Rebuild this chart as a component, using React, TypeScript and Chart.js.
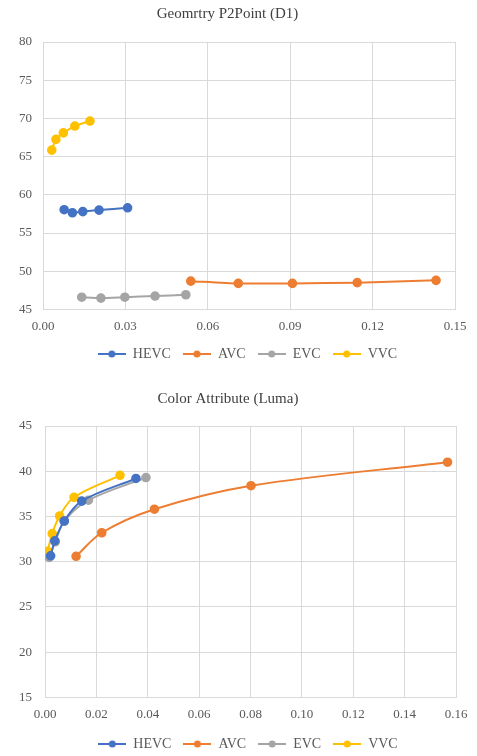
import React, { useEffect, useRef } from "react";
import { Chart, registerables } from "chart.js";

Chart.register(...registerables);

// ---- Chart 1: Geometry P2Point (D1) ----
const geoTitle = "Geomrtry P2Point (D1)";
const geoHevcX = [0.0077, 0.0107, 0.0145, 0.0204, 0.0308];
const geoHevcY = [58.05, 57.65, 57.8, 58.0, 58.3];
const geoAvcX = [0.0538, 0.0711, 0.0908, 0.1144, 0.1431];
const geoAvcY = [48.7, 48.4, 48.4, 48.5, 48.8];
const geoEvcX = [0.0141, 0.0211, 0.0298, 0.0408, 0.0520];
const geoEvcY = [46.6, 46.48, 46.6, 46.75, 46.92];
const geoVvcX = [0.0032, 0.0047, 0.0074, 0.0116, 0.0171];
const geoVvcY = [65.85, 67.25, 68.1, 69.0, 69.65];

// ---- Chart 2: Color Attribute (Luma) ----
const lumaTitle = "Color Attribute (Luma)";
const lumaHevcX = [0.0022, 0.0038, 0.0075, 0.0143, 0.0354];
const lumaHevcY = [30.65, 32.3, 34.5, 36.7, 39.2];
const lumaAvcX = [0.0121, 0.0221, 0.0426, 0.0802, 0.1567];
const lumaAvcY = [30.6, 33.2, 35.8, 38.4, 41.0];
const lumaEvcX = [0.0016, 0.0040, 0.0075, 0.0169, 0.0393];
const lumaEvcY = [30.48, 32.2, 34.48, 36.8, 39.3];
const lumaVvcX = [0.0010, 0.0028, 0.0057, 0.0113, 0.0292];
const lumaVvcY = [31.15, 33.1, 35.05, 37.12, 39.55];

const seriesNames = ["HEVC", "AVC", "EVC", "VVC"];
const seriesColors = ["#4472C4", "#ED7D31", "#A5A5A5", "#FFC000"];

const toPoints = (xs: number[], ys: number[]) => xs.map((x, i) => ({ x, y: ys[i] }));

function legendIcon(color: string) {
  const c = document.createElement("canvas");
  c.width = 28;
  c.height = 10;
  const ctx = c.getContext("2d")!;
  ctx.strokeStyle = color;
  ctx.lineWidth = 2;
  ctx.beginPath();
  ctx.moveTo(0, 5);
  ctx.lineTo(28, 5);
  ctx.stroke();
  ctx.fillStyle = color;
  ctx.beginPath();
  ctx.arc(14, 5, 3.5, 0, Math.PI * 2);
  ctx.fill();
  return c;
}

type Cfg = {
  title: string;
  series: { x: number[]; y: number[] }[];
  xMax: number;
  xStep: number;
  yMin: number;
  yMax: number;
  yStep: number;
  yWidth: number;
  yPad: number;
  padRight: number;
  titlePadTop: number;
  titlePadBottom: number;
  tension: number;
  legendShift: number;
  legendDy: number;
  legendH: number;
};

function makeChart(canvas: HTMLCanvasElement, cfg: Cfg) {
  const font = "'Liberation Serif', 'Times New Roman', serif";
  const shiftLegend = {
    id: "shiftLegend",
    afterLayout(chart: any) {
      if (chart.legend) {
        chart.legend.left += cfg.legendShift;
        chart.legend.right += cfg.legendShift;
        chart.legend.top += cfg.legendDy;
        chart.legend.bottom += cfg.legendDy;
      }
    },
  };
  return new Chart(canvas, {
    type: "scatter",
    data: {
      datasets: cfg.series.map((s, i) => ({
        label: seriesNames[i],
        data: toPoints(s.x, s.y),
        showLine: true,
        borderColor: seriesColors[i],
        backgroundColor: seriesColors[i],
        borderWidth: 2,
        pointRadius: 3.8,
        pointHoverRadius: 3.8,
        pointStyle: "circle",
        tension: cfg.tension,
      })) as any,
    },
    plugins: [shiftLegend],
    options: {
      animation: false,
      responsive: false,
      layout: { padding: { left: 0, right: cfg.padRight, top: 0, bottom: 0 } },
      plugins: {
        title: {
          display: true,
          text: cfg.title,
          color: "#404040",
          font: { family: font, size: 15, weight: "normal" },
          padding: { top: cfg.titlePadTop, bottom: cfg.titlePadBottom },
        },
        legend: {
          position: "bottom",
          maxHeight: cfg.legendH,
          labels: {
            color: "#595959",
            font: { family: font, size: 14 },
            usePointStyle: true,
            pointStyleWidth: 28,
            padding: 12,
            generateLabels: (chart: any) =>
              chart.data.datasets.map((d: any, i: number) => ({
                text: d.label,
                pointStyle: legendIcon(seriesColors[i]),
                fillStyle: seriesColors[i],
                strokeStyle: seriesColors[i],
                fontColor: "#595959",
                lineWidth: 0,
                hidden: false,
                datasetIndex: i,
              })),
          },
        },
        tooltip: { enabled: false },
      },
      scales: {
        x: {
          type: "linear",
          min: 0,
          max: cfg.xMax,
          grid: { color: "#d9d9d9", drawTicks: false },
          border: { color: "#d9d9d9" },
          ticks: {
            stepSize: cfg.xStep,
            padding: 9,
            color: "#595959",
            font: { family: font, size: 13 },
            callback: (v: any) => Number(v).toFixed(2),
          },
        },
        y: {
          min: cfg.yMin,
          max: cfg.yMax,
          grid: { color: "#d9d9d9", drawTicks: false },
          border: { color: "#d9d9d9" },
          afterFit: (s: any) => {
            s.width = cfg.yWidth;
          },
          ticks: {
            stepSize: cfg.yStep,
            padding: cfg.yPad,
            color: "#595959",
            font: { family: font, size: 13 },
          },
        },
      },
    } as any,
  });
}

export default function App() {
  const ref1 = useRef<HTMLCanvasElement>(null);
  const ref2 = useRef<HTMLCanvasElement>(null);
  useEffect(() => {
    const c1 = makeChart(ref1.current!, {
      title: geoTitle,
      series: [
        { x: geoHevcX, y: geoHevcY },
        { x: geoAvcX, y: geoAvcY },
        { x: geoEvcX, y: geoEvcY },
        { x: geoVvcX, y: geoVvcY },
      ],
      xMax: 0.15,
      xStep: 0.03,
      yMin: 45,
      yMax: 80,
      yStep: 5,
      yWidth: 43,
      yPad: 11,
      padRight: 22,
      titlePadTop: 5,
      titlePadBottom: 19,
      tension: 0.2,
      legendShift: 20,
      legendDy: -8,
      legendH: 27,
    });
    const c2 = makeChart(ref2.current!, {
      title: lumaTitle,
      series: [
        { x: lumaHevcX, y: lumaHevcY },
        { x: lumaAvcX, y: lumaAvcY },
        { x: lumaEvcX, y: lumaEvcY },
        { x: lumaVvcX, y: lumaVvcY },
      ],
      xMax: 0.16,
      xStep: 0.02,
      yMin: 15,
      yMax: 45,
      yStep: 5,
      yWidth: 45,
      yPad: 13,
      padRight: 21,
      titlePadTop: 20,
      titlePadBottom: 18,
      tension: 0.35,
      legendShift: 20,
      legendDy: -6,
      legendH: 25,
    });
    return () => {
      c1.destroy();
      c2.destroy();
    };
  }, []);
  return (
    <div style={{ position: "fixed", left: 0, top: 0, width: 477, height: 756, background: "#fff" }}>
      <canvas ref={ref1} width={477} height={370} style={{ display: "block", width: 477, height: 370 }} />
      <canvas ref={ref2} width={477} height={386} style={{ display: "block", width: 477, height: 386 }} />
    </div>
  );
}
